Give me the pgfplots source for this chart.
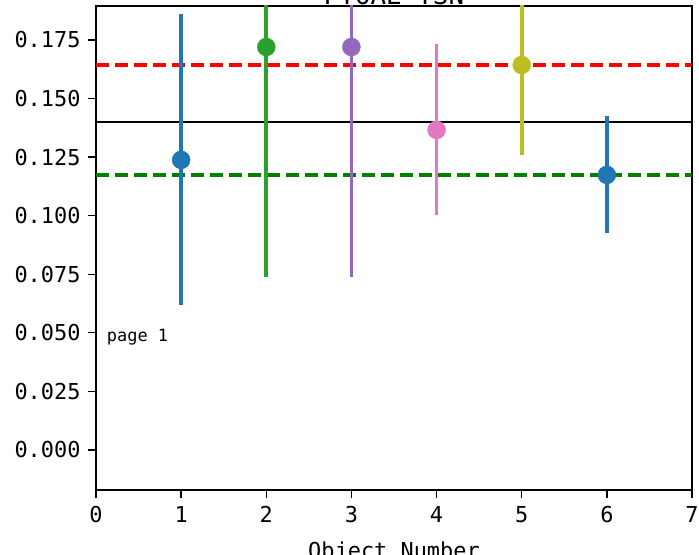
\documentclass[border=0pt]{standalone}
\usepackage{pgfplots}
\pgfplotsset{compat=1.18}
\usepackage{fontspec}
\setmainfont{DejaVu Sans Mono}
\definecolor{tabblue}{HTML}{1F77B4}
\definecolor{tabgreen}{HTML}{2CA02C}
\definecolor{tabpurple}{HTML}{9467BD}
\definecolor{tabpink}{HTML}{E377C2}
\definecolor{tabolive}{HTML}{BCBD22}
\definecolor{mplgreen}{HTML}{008000}
\begin{document}
\begin{tikzpicture}
\begin{axis}[
  name=ax,
  scale only axis,
  width=596bp, height=484bp,
  xmin=0, xmax=7,
  ymin=-0.0171, ymax=0.1895,
  xtick={0,1,2,3,4,5,6,7},
  ytick={0,0.025,0.05,0.075,0.1,0.125,0.15,0.175},
  yticklabels={0.000,0.025,0.050,0.075,0.100,0.125,0.150,0.175},
  tick align=outside,
  xtick pos=bottom, ytick pos=left,
  major tick length=8bp,
  tick style={line width=1.3bp, black},
  axis line style={line width=1.3bp},
  /pgf/number format/assume math mode=true,
  tick label style={font=\fontsize{22}{26}\selectfont},
  x tick label style={yshift=-5bp},
  y tick label style={xshift=-4bp},
  title={PTOAE TSN},
  title style={font=\fontsize{26}{30}\selectfont, at={(0.5,1)}, anchor=base, yshift=-4bp},
  xlabel={Object Number},
  xlabel style={font=\fontsize{22}{26}\selectfont, at={(0.5,0)}, anchor=base, yshift=-68bp},
  clip=true,
]
% reference lines
\addplot[red, line width=3.5bp, dash pattern=on 13bp off 6bp, forget plot] coordinates {(0,0.1643) (7,0.1643)};
\addplot[black, line width=2.6bp, forget plot] coordinates {(0,0.1400) (7,0.1400)};
\addplot[mplgreen, line width=3.5bp, dash pattern=on 13bp off 6bp, forget plot] coordinates {(0,0.1174) (7,0.1174)};
% points with error bars
\addplot[only marks, mark=*, mark size=9bp, color=tabblue,
  error bars/.cd, y dir=both, y explicit, error mark=none,
  error bar style={line width=3.8bp, tabblue}]
  coordinates {(1,0.1238) +- (0,0.0621)};
\addplot[only marks, mark=*, mark size=9bp, color=tabgreen,
  error bars/.cd, y dir=both, y explicit, error mark=none,
  error bar style={line width=3.8bp, tabgreen}]
  coordinates {(2,0.1720) +- (0,0.0982)};
\addplot[only marks, mark=*, mark size=9bp, color=tabpurple,
  error bars/.cd, y dir=both, y explicit, error mark=none,
  error bar style={line width=3.8bp, tabpurple}]
  coordinates {(3,0.1720) +- (0,0.0982)};
\addplot[only marks, mark=*, mark size=9bp, color=tabpink,
  error bars/.cd, y dir=both, y explicit, error mark=none,
  error bar style={line width=3.8bp, tabpink}]
  coordinates {(4,0.1366) +- (0,0.0365)};
\addplot[only marks, mark=*, mark size=9bp, color=tabolive,
  error bars/.cd, y dir=both, y explicit, error mark=none,
  error bar style={line width=3.8bp, tabolive}]
  coordinates {(5,0.1643) +- (0,0.0384)};
\addplot[only marks, mark=*, mark size=9bp, color=tabblue,
  error bars/.cd, y dir=both, y explicit, error mark=none,
  error bar style={line width=3.8bp, tabblue}]
  coordinates {(6,0.1174) +- (0,0.0250)};
\node[anchor=base west, font=\fontsize{17}{20}\selectfont, inner sep=0pt] at (rel axis cs:0.018,0.306) {page 1};
\end{axis}
\pgfresetboundingbox
\path[use as bounding box] ([shift={(-96bp,-64bp)}]ax.south west) rectangle ([shift={(7bp,6bp)}]ax.north east);
\end{tikzpicture}
\end{document}
